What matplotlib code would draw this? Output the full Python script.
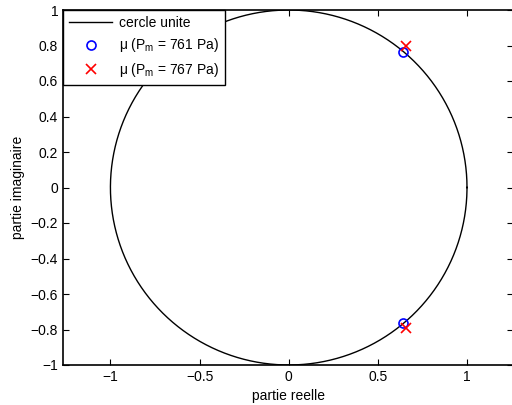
import numpy as np
import matplotlib.pyplot as plt

plt.rcParams['font.family'] = ['Liberation Sans', 'DejaVu Sans']

# valeurs propres
mu761_re = [0.643, 0.643]
mu761_im = [0.765, -0.762]
mu767_re = [0.658, 0.656]
mu767_im = [0.799, -0.793]

xticks = [-1, -0.5, 0, 0.5, 1]
yticks = [-1, -0.8, -0.6, -0.4, -0.2, 0, 0.2, 0.4, 0.6, 0.8, 1]

theta = np.linspace(0, 2 * np.pi, 500)

fig = plt.figure(figsize=(5.12, 4.05), dpi=100)
# the right edge of the box falls just outside the picture, as in the original
ax = fig.add_axes([63 / 512, 40 / 405, 450 / 512, 355 / 405])

ax.plot(np.cos(theta), np.sin(theta), 'k-', lw=1, label='cercle unite')
ax.plot(mu761_re, mu761_im, 'o', mfc='none', mec='b', ms=6.5, mew=1.2,
        label=r'μ (P$_\mathregular{m}$ = 761 Pa)')
ax.plot(mu767_re, mu767_im, 'x', color='r', ms=6.5, mew=1.2,
        label=r'μ (P$_\mathregular{m}$ = 767 Pa)')

ax.set_xlim(-1.266, 1.258)
ax.set_ylim(-1, 1)
ax.set_xticks(xticks)
ax.set_xticklabels(['\u22121', '\u22120.5', '0', '0.5', '1'])
ax.set_yticks(yticks)
ax.set_yticklabels([('\u2212' + str(abs(v))) if v < 0 else str(v) for v in yticks])
ax.tick_params(direction='in', top=True, right=True, labelsize=10, length=4)
for s in ax.spines.values():
    s.set_linewidth(1.2)

ax.set_xlabel('partie reelle', fontsize=10, labelpad=4)
ax.set_ylabel('partie imaginaire', fontsize=10, labelpad=4)

leg = ax.legend(loc='upper left', fontsize=10, borderaxespad=0, fancybox=False,
                edgecolor='k', framealpha=1, handlelength=3.1, labelspacing=0.45,
                borderpad=0.45, handletextpad=0.45)
leg.get_frame().set_linewidth(1)

fig.savefig('out.png', dpi=100)
